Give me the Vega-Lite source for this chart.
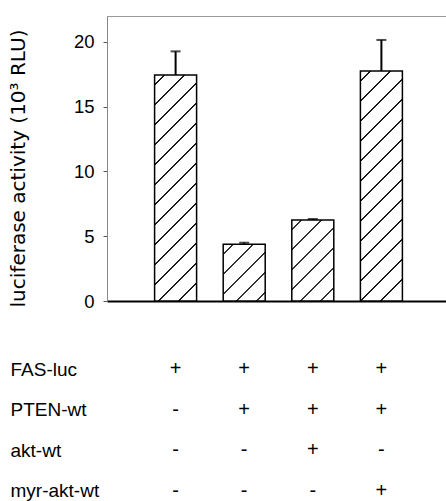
{
  "$schema": "https://vega.github.io/schema/vega-lite/v6.json",
  "padding": {"left": 7, "top": 15, "right": 0, "bottom": 0},
  "background": "white",
  "bounds": "flush",
  "spacing": 48,
  "config": {"font": "Liberation Sans"},
  "datasets": {
    "bars": [
      {"condition": "FAS-luc", "luciferase": 17.45, "upper": 19.27},
      {"condition": "FAS-luc + PTEN-wt", "luciferase": 4.38, "upper": 4.5},
      {"condition": "FAS-luc + PTEN-wt + akt-wt", "luciferase": 6.26, "upper": 6.33},
      {"condition": "FAS-luc + PTEN-wt + myr-akt-wt", "luciferase": 17.75, "upper": 20.15}
    ],
    "table": [
      {"construct": "FAS-luc", "condition": "FAS-luc", "sign": "+"},
      {"construct": "FAS-luc", "condition": "FAS-luc + PTEN-wt", "sign": "+"},
      {"construct": "FAS-luc", "condition": "FAS-luc + PTEN-wt + akt-wt", "sign": "+"},
      {"construct": "FAS-luc", "condition": "FAS-luc + PTEN-wt + myr-akt-wt", "sign": "+"},
      {"construct": "PTEN-wt", "condition": "FAS-luc", "sign": "-"},
      {"construct": "PTEN-wt", "condition": "FAS-luc + PTEN-wt", "sign": "+"},
      {"construct": "PTEN-wt", "condition": "FAS-luc + PTEN-wt + akt-wt", "sign": "+"},
      {"construct": "PTEN-wt", "condition": "FAS-luc + PTEN-wt + myr-akt-wt", "sign": "+"},
      {"construct": "akt-wt", "condition": "FAS-luc", "sign": "-"},
      {"construct": "akt-wt", "condition": "FAS-luc + PTEN-wt", "sign": "-"},
      {"construct": "akt-wt", "condition": "FAS-luc + PTEN-wt + akt-wt", "sign": "+"},
      {"construct": "akt-wt", "condition": "FAS-luc + PTEN-wt + myr-akt-wt", "sign": "-"},
      {"construct": "myr-akt-wt", "condition": "FAS-luc", "sign": "-"},
      {"construct": "myr-akt-wt", "condition": "FAS-luc + PTEN-wt", "sign": "-"},
      {"construct": "myr-akt-wt", "condition": "FAS-luc + PTEN-wt + akt-wt", "sign": "-"},
      {"construct": "myr-akt-wt", "condition": "FAS-luc + PTEN-wt + myr-akt-wt", "sign": "+"}
    ]
  },
  "vconcat": [
    {
      "width": 343,
      "height": 285,
      "view": {"stroke": "#999999", "strokeWidth": 1},
      "data": {"name": "bars"},
      "encoding": {
        "x": {
          "field": "condition",
          "type": "nominal",
          "sort": ["FAS-luc", "FAS-luc + PTEN-wt", "FAS-luc + PTEN-wt + akt-wt", "FAS-luc + PTEN-wt + myr-akt-wt"],
          "scale": {"type": "band", "paddingInner": 0, "paddingOuter": 0.5},
          "axis": {"title": null, "labels": false, "ticks": false, "domainColor": "black", "domainWidth": 2}
        }
      },
      "layer": [
        {
          "mark": {"type": "bar", "size": 42, "stroke": "black", "strokeWidth": 1.5},
          "encoding": {
            "y": {
              "field": "luciferase",
              "type": "quantitative",
              "title": "luciferase activity (10³ RLU)",
              "scale": {"domain": [0, 22], "nice": false},
              "axis": {
                "values": [0, 5, 10, 15, 20],
                "grid": false,
                "domainColor": "#888888",
                "tickColor": "#555555",
                "tickSize": 4,
                "labelPadding": 9,
                "labelFontSize": 18.5,
                "labelColor": "black",
                "labelFont": "Liberation Sans",
                "titleFont": "DejaVu Sans",
                "titleFontSize": 20,
                "titleFontWeight": "normal",
                "titleColor": "black",
                "titleX": -83,
                "titleY": 152,
                "titleAngle": 270,
                "titleAlign": "center",
                "titleBaseline": "alphabetic"
              }
            },
            "fill": {
              "condition": [
                {"test": "datum.condition === 'FAS-luc'", "value": {"gradient": "linear", "x1": 0, "y1": 0, "x2": 0.21296, "y2": 1.14624, "stops": [
                  {"offset": 0, "color": "white"},
                  {"offset": 0.0339, "color": "white"}, {"offset": 0.0339, "color": "#1a1a1a"}, {"offset": 0.0407, "color": "#1a1a1a"}, {"offset": 0.0407, "color": "white"},
                  {"offset": 0.1086, "color": "white"}, {"offset": 0.1086, "color": "#1a1a1a"}, {"offset": 0.1153, "color": "#1a1a1a"}, {"offset": 0.1153, "color": "white"},
                  {"offset": 0.1832, "color": "white"}, {"offset": 0.1832, "color": "#1a1a1a"}, {"offset": 0.1899, "color": "#1a1a1a"}, {"offset": 0.1899, "color": "white"},
                  {"offset": 0.2578, "color": "white"}, {"offset": 0.2578, "color": "#1a1a1a"}, {"offset": 0.2645, "color": "#1a1a1a"}, {"offset": 0.2645, "color": "white"},
                  {"offset": 0.3324, "color": "white"}, {"offset": 0.3324, "color": "#1a1a1a"}, {"offset": 0.3391, "color": "#1a1a1a"}, {"offset": 0.3391, "color": "white"},
                  {"offset": 0.4070, "color": "white"}, {"offset": 0.4070, "color": "#1a1a1a"}, {"offset": 0.4137, "color": "#1a1a1a"}, {"offset": 0.4137, "color": "white"},
                  {"offset": 0.4816, "color": "white"}, {"offset": 0.4816, "color": "#1a1a1a"}, {"offset": 0.4883, "color": "#1a1a1a"}, {"offset": 0.4883, "color": "white"},
                  {"offset": 0.5562, "color": "white"}, {"offset": 0.5562, "color": "#1a1a1a"}, {"offset": 0.5629, "color": "#1a1a1a"}, {"offset": 0.5629, "color": "white"},
                  {"offset": 0.6308, "color": "white"}, {"offset": 0.6308, "color": "#1a1a1a"}, {"offset": 0.6375, "color": "#1a1a1a"}, {"offset": 0.6375, "color": "white"},
                  {"offset": 0.7054, "color": "white"}, {"offset": 0.7054, "color": "#1a1a1a"}, {"offset": 0.7122, "color": "#1a1a1a"}, {"offset": 0.7122, "color": "white"},
                  {"offset": 0.7800, "color": "white"}, {"offset": 0.7800, "color": "#1a1a1a"}, {"offset": 0.7868, "color": "#1a1a1a"}, {"offset": 0.7868, "color": "white"},
                  {"offset": 0.8547, "color": "white"}, {"offset": 0.8547, "color": "#1a1a1a"}, {"offset": 0.8614, "color": "#1a1a1a"}, {"offset": 0.8614, "color": "white"},
                  {"offset": 0.9293, "color": "white"}, {"offset": 0.9293, "color": "#1a1a1a"}, {"offset": 0.9360, "color": "#1a1a1a"}, {"offset": 0.9360, "color": "white"},
                  {"offset": 1, "color": "white"}
                ]}},
                {"test": "datum.condition === 'FAS-luc + PTEN-wt'", "value": {"gradient": "linear", "x1": 0, "y1": 0, "x2": 0.83218, "y2": 1.12424, "stops": [
                  {"offset": 0, "color": "white"},
                  {"offset": 0.0922, "color": "white"}, {"offset": 0.0922, "color": "#333333"}, {"offset": 0.1104, "color": "#333333"}, {"offset": 0.1104, "color": "white"},
                  {"offset": 0.2947, "color": "white"}, {"offset": 0.2947, "color": "#333333"}, {"offset": 0.3129, "color": "#333333"}, {"offset": 0.3129, "color": "white"},
                  {"offset": 0.4973, "color": "white"}, {"offset": 0.4973, "color": "#333333"}, {"offset": 0.5155, "color": "#333333"}, {"offset": 0.5155, "color": "white"},
                  {"offset": 0.6998, "color": "white"}, {"offset": 0.6998, "color": "#333333"}, {"offset": 0.7180, "color": "#333333"}, {"offset": 0.7180, "color": "white"},
                  {"offset": 0.9024, "color": "white"}, {"offset": 0.9024, "color": "#333333"}, {"offset": 0.9206, "color": "#333333"}, {"offset": 0.9206, "color": "white"},
                  {"offset": 1, "color": "white"}
                ]}},
                {"test": "datum.condition === 'FAS-luc + PTEN-wt + akt-wt'", "value": {"gradient": "linear", "x1": 0, "y1": 0, "x2": 0.61984, "y2": 1.19687, "stops": [
                  {"offset": 0, "color": "white"},
                  {"offset": 0.0739, "color": "white"}, {"offset": 0.0739, "color": "#333333"}, {"offset": 0.0885, "color": "#333333"}, {"offset": 0.0885, "color": "white"},
                  {"offset": 0.2364, "color": "white"}, {"offset": 0.2364, "color": "#333333"}, {"offset": 0.2510, "color": "#333333"}, {"offset": 0.2510, "color": "white"},
                  {"offset": 0.3989, "color": "white"}, {"offset": 0.3989, "color": "#333333"}, {"offset": 0.4135, "color": "#333333"}, {"offset": 0.4135, "color": "white"},
                  {"offset": 0.5613, "color": "white"}, {"offset": 0.5613, "color": "#333333"}, {"offset": 0.5760, "color": "#333333"}, {"offset": 0.5760, "color": "white"},
                  {"offset": 0.7238, "color": "white"}, {"offset": 0.7238, "color": "#333333"}, {"offset": 0.7384, "color": "#333333"}, {"offset": 0.7384, "color": "white"},
                  {"offset": 0.8863, "color": "white"}, {"offset": 0.8863, "color": "#333333"}, {"offset": 0.9009, "color": "#333333"}, {"offset": 0.9009, "color": "white"},
                  {"offset": 1, "color": "white"}
                ]}},
                {"test": "datum.condition === 'FAS-luc + PTEN-wt + myr-akt-wt'", "value": {"gradient": "linear", "x1": 0, "y1": 0, "x2": 0.20905, "y2": 1.14448, "stops": [
                  {"offset": 0, "color": "white"},
                  {"offset": 0.0335, "color": "white"}, {"offset": 0.0335, "color": "#1a1a1a"}, {"offset": 0.0401, "color": "#1a1a1a"}, {"offset": 0.0401, "color": "white"},
                  {"offset": 0.1070, "color": "white"}, {"offset": 0.1070, "color": "#1a1a1a"}, {"offset": 0.1136, "color": "#1a1a1a"}, {"offset": 0.1136, "color": "white"},
                  {"offset": 0.1806, "color": "white"}, {"offset": 0.1806, "color": "#1a1a1a"}, {"offset": 0.1872, "color": "#1a1a1a"}, {"offset": 0.1872, "color": "white"},
                  {"offset": 0.2541, "color": "white"}, {"offset": 0.2541, "color": "#1a1a1a"}, {"offset": 0.2607, "color": "#1a1a1a"}, {"offset": 0.2607, "color": "white"},
                  {"offset": 0.3276, "color": "white"}, {"offset": 0.3276, "color": "#1a1a1a"}, {"offset": 0.3343, "color": "#1a1a1a"}, {"offset": 0.3343, "color": "white"},
                  {"offset": 0.4012, "color": "white"}, {"offset": 0.4012, "color": "#1a1a1a"}, {"offset": 0.4078, "color": "#1a1a1a"}, {"offset": 0.4078, "color": "white"},
                  {"offset": 0.4747, "color": "white"}, {"offset": 0.4747, "color": "#1a1a1a"}, {"offset": 0.4814, "color": "#1a1a1a"}, {"offset": 0.4814, "color": "white"},
                  {"offset": 0.5483, "color": "white"}, {"offset": 0.5483, "color": "#1a1a1a"}, {"offset": 0.5549, "color": "#1a1a1a"}, {"offset": 0.5549, "color": "white"},
                  {"offset": 0.6218, "color": "white"}, {"offset": 0.6218, "color": "#1a1a1a"}, {"offset": 0.6284, "color": "#1a1a1a"}, {"offset": 0.6284, "color": "white"},
                  {"offset": 0.6954, "color": "white"}, {"offset": 0.6954, "color": "#1a1a1a"}, {"offset": 0.7020, "color": "#1a1a1a"}, {"offset": 0.7020, "color": "white"},
                  {"offset": 0.7689, "color": "white"}, {"offset": 0.7689, "color": "#1a1a1a"}, {"offset": 0.7755, "color": "#1a1a1a"}, {"offset": 0.7755, "color": "white"},
                  {"offset": 0.8425, "color": "white"}, {"offset": 0.8425, "color": "#1a1a1a"}, {"offset": 0.8491, "color": "#1a1a1a"}, {"offset": 0.8491, "color": "white"},
                  {"offset": 0.9160, "color": "white"}, {"offset": 0.9160, "color": "#1a1a1a"}, {"offset": 0.9226, "color": "#1a1a1a"}, {"offset": 0.9226, "color": "white"},
                  {"offset": 1, "color": "white"}
                ]}}
              ],
              "value": "white"
            }
          }
        },
        {
          "mark": {"type": "rule", "strokeWidth": 2, "color": "black"},
          "encoding": {
            "y": {"field": "luciferase", "type": "quantitative", "title": "luciferase activity (10³ RLU)"},
            "y2": {"field": "upper"}
          }
        },
        {
          "mark": {"type": "tick", "orient": "horizontal", "size": 10, "thickness": 2, "color": "black"},
          "encoding": {
            "y": {"field": "upper", "type": "quantitative", "title": "luciferase activity (10³ RLU)"}
          }
        }
      ]
    },
    {
      "width": 343,
      "height": 162,
      "view": {"stroke": null},
      "data": {"name": "table"},
      "mark": {"type": "text", "fontSize": 20, "font": "Liberation Sans", "color": "black"},
      "encoding": {
        "x": {
          "field": "condition",
          "type": "nominal",
          "sort": ["FAS-luc", "FAS-luc + PTEN-wt", "FAS-luc + PTEN-wt + akt-wt", "FAS-luc + PTEN-wt + myr-akt-wt"],
          "scale": {"type": "band", "paddingInner": 0, "paddingOuter": 0.5},
          "axis": null
        },
        "y": {
          "field": "construct",
          "type": "nominal",
          "sort": ["FAS-luc", "PTEN-wt", "akt-wt", "myr-akt-wt"],
          "scale": {"paddingInner": 0, "paddingOuter": 0},
          "axis": {
            "title": null,
            "domain": false,
            "ticks": false,
            "tickSize": 0,
            "labelAlign": "left",
            "labelPadding": 97,
            "labelFontSize": 19,
            "labelColor": "black",
            "labelFont": "Liberation Sans"
          }
        },
        "text": {"field": "sign"}
      }
    }
  ]
}
